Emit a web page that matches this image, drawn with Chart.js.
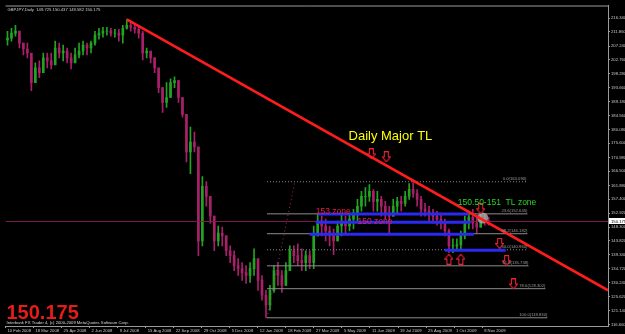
<!DOCTYPE html>
<html>
<head>
<meta charset="utf-8">
<script src="https://cdn.jsdelivr.net/npm/chart.js@4.4.1/dist/chart.umd.min.js"></script>
<style>
  html, body { margin: 0; padding: 0; background: #000; }
  #wrap { width: 625px; height: 334px; }
</style>
</head>
<body>
<div id="wrap"><canvas id="chart" width="625" height="334"></canvas></div>
<script>
// GBPJPY daily; one entry covers roughly 4 daily bars
const highs = [
  212.06, 213.03, 213.99, 212.06, 208.20, 208.20, 203.37, 201.76, 202.41, 204.98,
  204.98, 204.98, 208.84, 208.20, 207.55, 206.59, 204.98, 206.59, 208.20, 208.84,
  208.20, 208.84, 212.06, 213.03, 213.35, 213.35, 213.03, 212.70, 212.70, 213.99,
  215.92, 215.28, 214.63, 213.99, 212.06, 206.59, 205.62, 203.37, 197.90, 193.72,
  195.33, 196.61, 197.26, 195.97, 190.50, 185.03, 180.85, 179.24, 166.37, 164.76,
  163.15, 158.33, 151.89, 148.68, 148.35, 145.46, 142.24, 140.63, 138.06, 136.77,
  135.81, 136.77, 141.28, 137.41, 132.59, 127.76, 129.37, 135.81, 136.77, 134.20,
  136.77, 142.24, 142.24, 142.88, 141.28, 140.63, 140.63, 148.68, 152.86, 151.89,
  150.93, 148.68, 147.71, 150.28, 152.22, 151.89, 152.86, 154.15, 157.37, 159.94,
  161.22, 162.19, 160.58, 159.94, 158.33, 156.72, 155.11, 157.37, 158.01, 158.33,
  159.94, 162.51, 162.83, 160.58, 158.33, 156.08, 155.11, 154.15, 153.50, 152.86,
  150.93, 147.71, 144.49, 144.49, 147.07, 151.89, 152.86, 154.15, 151.89, 152.86,
  152.54, 151.57
];
const lows = [
  207.55, 208.84, 210.45, 206.59, 204.34, 203.37, 192.75, 195.33, 196.94, 199.19,
  200.15, 199.83, 201.76, 203.37, 202.41, 201.76, 199.83, 202.41, 203.37, 204.34,
  204.34, 204.98, 207.55, 209.49, 210.13, 210.77, 210.45, 210.13, 208.84, 208.20,
  212.70, 212.06, 211.42, 209.81, 202.73, 203.37, 201.76, 198.54, 192.11, 185.67,
  187.28, 190.50, 193.72, 188.89, 184.07, 169.58, 165.72, 172.80, 139.02, 142.24,
  155.11, 149.64, 140.63, 142.24, 142.24, 139.02, 136.77, 134.20, 132.59, 130.98,
  130.02, 130.34, 132.59, 127.76, 124.55, 118.75, 121.33, 127.12, 129.37, 127.12,
  129.37, 134.20, 136.77, 135.81, 134.20, 134.20, 134.84, 134.84, 145.46, 145.46,
  143.85, 142.24, 139.34, 143.85, 145.46, 146.42, 147.07, 147.71, 150.28, 153.50,
  155.11, 156.72, 153.50, 153.50, 151.89, 150.93, 146.42, 151.89, 152.86, 153.50,
  155.11, 157.37, 158.01, 155.11, 151.89, 151.89, 150.28, 149.64, 149.00, 147.71,
  145.46, 139.99, 139.99, 140.63, 140.63, 144.49, 147.71, 147.71, 146.42, 148.35,
  149.00, 149.00
];
const closes = [
  209.81, 211.42, 212.06, 208.20, 206.27, 204.98, 195.33, 200.15, 198.54, 203.37,
  202.41, 201.12, 206.59, 204.98, 205.62, 203.37, 201.76, 204.34, 205.62, 207.55,
  206.59, 208.20, 210.77, 211.42, 212.06, 212.06, 211.42, 211.42, 210.77, 213.03,
  213.99, 213.35, 212.70, 211.42, 204.98, 205.62, 203.37, 200.15, 193.72, 188.89,
  190.50, 195.33, 195.97, 190.50, 185.03, 172.80, 176.02, 174.41, 143.85, 161.55,
  158.33, 151.89, 143.85, 146.42, 145.46, 140.63, 139.02, 135.81, 134.84, 133.55,
  132.59, 134.84, 138.06, 130.98, 126.15, 122.94, 127.76, 134.20, 132.59, 129.37,
  134.20, 140.63, 139.02, 137.41, 136.77, 139.02, 136.77, 145.46, 150.28, 148.68,
  147.07, 145.46, 143.85, 148.68, 149.64, 148.68, 150.93, 152.86, 155.11, 158.33,
  158.33, 159.94, 156.72, 157.37, 155.11, 152.86, 151.89, 155.11, 156.72, 156.08,
  158.33, 160.58, 159.30, 157.37, 154.15, 153.50, 152.86, 151.89, 150.93, 149.64,
  147.07, 142.24, 142.24, 142.56, 145.46, 150.28, 151.57, 149.64, 148.35, 150.93,
  150.28, 150.175
];
const firstOpen = 209.2;
const lastPrice = 150.175;

const dateLabels = ['10 Feb 2008', '18 Mar 2008', '25 Apr 2008', '2 Jun 2008', '9 Jul 2008',
  '15 Aug 2008', '22 Sep 2008', '29 Oct 2008', '5 Dec 2008', '12 Jan 2009', '18 Feb 2009',
  '27 Mar 2009', '5 May 2009', '11 Jun 2009', '19 Jul 2009', '25 Aug 2009', '1 Oct 2009', '8 Nov 2009'];
const dateTickBars = [-0.5, 6.55, 13.6, 20.65, 27.7, 34.75, 41.8, 48.85, 55.9, 62.95, 70,
  77.05, 84.1, 91.15, 98.2, 105.25, 112.3, 119.35];
const priceTicks = [216.34, 211.86, 207.24, 202.76, 198.28, 193.66, 189.18, 184.56, 180.08,
  175.6, 170.98, 166.5, 161.88, 157.4, 152.92, 148.3, 143.82, 139.34, 134.72, 130.24,
  125.62, 121.14, 116.66];

// drawn objects
const tlBars = [30, 151];
const tlPrices = [215.92, 127.76];

const zonePrices = [152.6, 149.95, 146.0, 140.78];
const zoneStart = [78, 77.5, 76, 110];
const zoneEnd = [116, 116.5, 117.25, 125.25];

const fibLabels = ['0.0(163.090)', '23.6(152.645)', '38.2(146.182)', '50.0(140.960)',
  '61.8(135.738)', '78.6(128.302)', '100.0(118.830)'];
const fibPrices = [163.09, 152.645, 146.182, 140.96, 135.738, 128.302, 118.83];
const fibStart = 65.25;
const fibEnd = [130.5, 130.75, 130.75, 130.75, 131, 135.25, 135.75];
const anchorBars = [65.25, 72.25];
const anchorPrices = [118.83, 163.09];

const downArrowBars = [91.5, 95.25, 119, 123.75, 125.5, 127.25];
const downArrowPrices = [172.15, 171.19, 154.3, 143.03, 137.4, 129.84];
const upArrowBars = [111, 114];
const upArrowPrices = [137.9, 137.9];
const markBar = 119.5, markPrice = 151.3;

const noteTexts = ['Daily Major TL', '150.50-151  TL zone', '153 zone', '150 zone'];
const noteBars = [85.75, 113.25, 77.5, 88];
const notePrices = [176.66, 155.43, 152.69, 149.31];
const noteColors = ['#ffff00', '#2ad42a', '#e8203a', '#e8204c'];
const noteSizes = [13, 8.5, 8.5, 8.5];

const title = 'GBPJPY,Daily  149.725 150.437 149.582 150.175';
const footer = 'Interbank FX Trader 4, (c) 2000-2009 MetaQuotes Software Corp.';

const opens = closes.map((c, i) => i === 0 ? firstOpen : closes[i - 1]);
const upColor = '#22a322', downColor = '#a8206a';
const barColors = closes.map((c, i) => c >= opens[i] ? upColor : downColor);

const wickData = highs.map((h, i) => ({x: i, y: [lows[i], h]}));
const bodyData = closes.map((c, i) => ({x: i, y: [Math.min(opens[i], c), Math.max(opens[i], c) + 0.01]}));

function lineSet(data, color, width, dash, order) {
  return {type: 'line', data, borderColor: color, borderWidth: width, borderDash: dash || [],
    pointRadius: 0, fill: false, tension: 0, order};
}

function arrowImage(up) {
  const c = document.createElement('canvas');
  c.width = 9; c.height = 11;
  const g = c.getContext('2d');
  if (up) { g.translate(0, 11); g.scale(1, -1); }
  g.beginPath();
  g.moveTo(2.5, 0.5); g.lineTo(6.5, 0.5); g.lineTo(6.5, 5.5); g.lineTo(8.5, 5.5);
  g.lineTo(4.5, 10.5); g.lineTo(0.5, 5.5); g.lineTo(2.5, 5.5); g.closePath();
  g.fillStyle = '#000'; g.fill();
  g.strokeStyle = '#ee2233'; g.lineWidth = 1.1; g.stroke();
  return c;
}

const datasets = [
  lineSet(tlBars.map((b, i) => ({x: b, y: tlPrices[i]})), '#ff1c1c', 2.6, null, 0),
  {type: 'scatter', data: downArrowBars.map((b, i) => ({x: b, y: downArrowPrices[i]})),
    pointStyle: arrowImage(false), order: 1},
  {type: 'scatter', data: upArrowBars.map((b, i) => ({x: b, y: upArrowPrices[i]})),
    pointStyle: arrowImage(true), order: 1},
  {type: 'scatter', data: [{x: markBar, y: markPrice}], pointRadius: 5.5,
    backgroundColor: 'rgba(175,175,175,0.8)', borderWidth: 0, order: 2},
];
zonePrices.forEach((p, i) => {
  datasets.push(lineSet([{x: zoneStart[i], y: p}, {x: zoneEnd[i], y: p}], '#2a2af2', 3, null, 3));
});
datasets.push(lineSet([{x: -0.5, y: lastPrice}, {x: 151, y: lastPrice}], '#7d1f4f', 1, null, 4));
fibPrices.forEach((p, i) => {
  const dotted = i === 0 || i === 3;
  datasets.push(lineSet([{x: fibStart, y: p}, {x: fibEnd[i], y: p}], '#8c8c8c', 1, dotted ? [1, 2] : null, 5));
});
datasets.push(lineSet(anchorBars.map((b, i) => ({x: b, y: anchorPrices[i]})), '#b0205e', 1, [1, 3], 5));
datasets.push({type: 'bar', data: bodyData, backgroundColor: barColors, barThickness: 2,
  grouped: false, borderWidth: 0, order: 10});
datasets.push({type: 'bar', data: wickData, backgroundColor: barColors, barThickness: 1,
  grouped: false, borderWidth: 0, order: 11});

const tickFont = {family: 'Liberation Sans', size: 4.2};

const overlay = {
  id: 'overlay',
  afterDatasetsDraw(chart) {
    const {ctx: g, scales: {x, y}, chartArea: a} = chart;
    g.save();
    g.strokeStyle = '#9a9a9a';
    g.lineWidth = 1;
    g.beginPath();
    g.moveTo(a.left, a.top + 0.5); g.lineTo(a.right, a.top + 0.5);
    g.stroke();

    g.font = '4.2px "Liberation Sans"';
    g.fillStyle = '#d0d0d0';
    g.textAlign = 'left';
    g.textBaseline = 'alphabetic';
    g.fillText(title, a.left + 2, a.top + 5);

    // fib level captions
    g.fillStyle = '#9a9a9a';
    g.textAlign = 'right';
    fibPrices.forEach((p, i) => {
      g.fillText(fibLabels[i], x.getPixelForValue(fibEnd[i]), y.getPixelForValue(p) - 1.5);
    });

    g.textAlign = 'left';
    noteTexts.forEach((t, i) => {
      g.font = noteSizes[i] + 'px "Liberation Sans"';
      g.fillStyle = noteColors[i];
      g.fillText(t, x.getPixelForValue(noteBars[i]), y.getPixelForValue(notePrices[i]));
    });

    g.font = 'bold 20px "Liberation Sans"';
    g.fillStyle = '#e41c1c';
    g.fillText(lastPrice.toFixed(3), a.left + 1, a.bottom - 7);
    g.font = '4.2px "Liberation Sans"';
    g.fillStyle = '#d8d8d8';
    g.fillText(footer, a.left + 1, a.bottom - 2);

    // price box on the axis
    const py = Math.round(y.getPixelForValue(lastPrice));
    g.fillStyle = '#ffffff';
    g.fillRect(a.right + 1, py - 3, 17, 6);
    g.fillStyle = '#000000';
    g.fillText(lastPrice.toFixed(3), a.right + 3, py + 1.5);
    g.restore();
  }
};

new Chart(document.getElementById('chart'), {
  type: 'bar',
  data: {datasets},
  options: {
    responsive: false,
    animation: false,
    devicePixelRatio: 1,
    layout: {padding: {top: 2, left: 2, right: 0, bottom: 0}},
    plugins: {legend: {display: false}, tooltip: {enabled: false}},
    scales: {
      x: {
        type: 'linear',
        min: -0.5,
        max: 151,
        offset: false,
        grid: {offset: false, drawOnChartArea: false, drawTicks: true, tickLength: 2, color: '#9a9a9a'},
        border: {color: '#9a9a9a'},
        afterBuildTicks: s => { s.ticks = dateTickBars.map(v => ({value: v})); },
        afterFit: s => { s.height = 8; },
        ticks: {
          autoSkip: false, maxRotation: 0, align: 'start', labelOffset: 2, padding: 0,
          color: '#c8c8c8', font: tickFont,
          callback: (v, i) => dateLabels[i]
        }
      },
      y: {
        position: 'right',
        min: 116.16,
        max: 220.43,
        grid: {drawOnChartArea: false, drawTicks: true, tickLength: 2, color: '#9a9a9a'},
        border: {color: '#9a9a9a'},
        afterBuildTicks: s => { s.ticks = priceTicks.map(v => ({value: v})); },
        afterFit: s => { s.width = 17; },
        ticks: {
          autoSkip: false, padding: 1, color: '#c8c8c8', font: tickFont,
          callback: v => Number(v).toFixed(3)
        }
      }
    }
  },
  plugins: [overlay]
});
</script>
</body>
</html>
